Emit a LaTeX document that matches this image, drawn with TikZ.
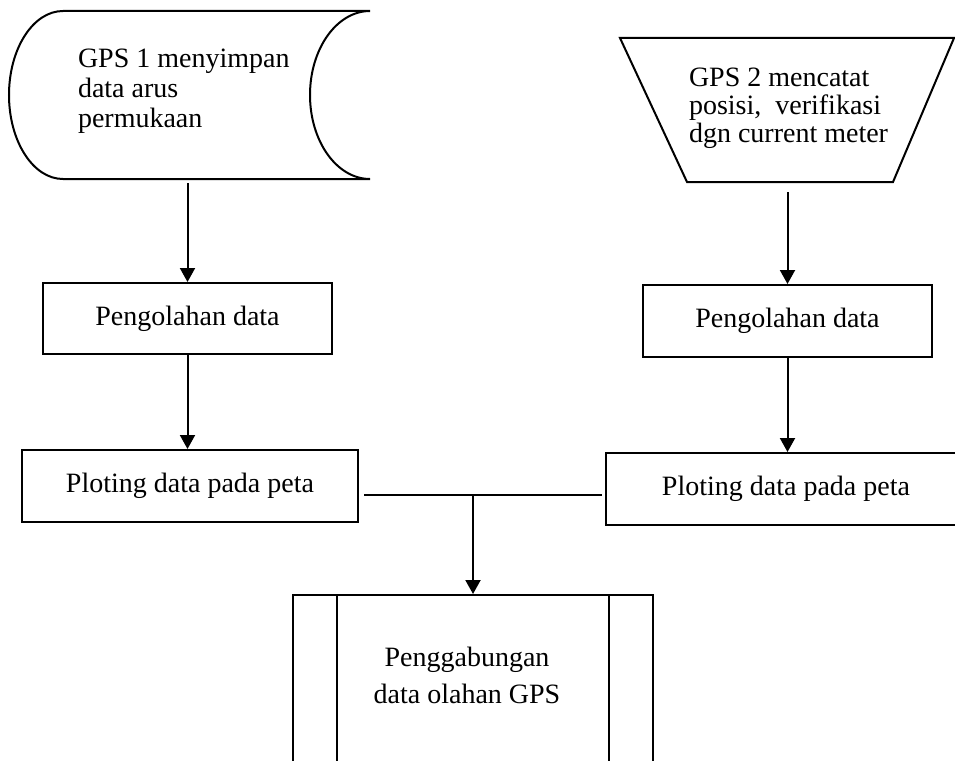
\documentclass[tikz,border=0pt]{standalone}
\usepackage{fontspec}
\setmainfont{Liberation Serif}
\usetikzlibrary{arrows.meta,calc}
\begin{document}
\begin{tikzpicture}[x=1pt,y=-1pt,
  line width=2pt,
  box/.style={draw, rectangle, inner sep=0pt, font=\fontsize{28}{30}\selectfont},
  ghost/.style={rectangle, inner sep=0pt, outer sep=0pt, draw=none},
  txt/.style={inner sep=0pt, font=\fontsize{28}{30}\selectfont},
  arr/.style={-{Triangle[length=14pt,width=15pt]}}
]
\path[use as bounding box] (0,0) rectangle (955,760);
\clip (0,0) rectangle (955,760);

% shapes
\node[ghost, minimum width=361pt, minimum height=168pt] (gps1) at (189.5,95) {};
\node[ghost, minimum width=334pt, minimum height=144pt] (gps2) at (787,110) {};
\draw ([xshift=54pt]gps1.north west) -- (gps1.north east)
  arc[start angle=90, end angle=270, x radius=60pt, y radius=84pt]
  -- ([xshift=54pt]gps1.south west)
  arc[start angle=270, end angle=90, x radius=54pt, y radius=84pt] -- cycle;
\draw (gps2.north west) -- (gps2.north east) -- ([xshift=-61pt]gps2.south east)
  -- ([xshift=67pt]gps2.south west) -- cycle;

\node[txt, align=left, anchor=base west] (gps1t) at (77,127)
  {GPS 1 menyimpan\\data arus\\permukaan};
\node[txt, align=left, anchor=base west, font=\fontsize{28}{28}\selectfont] (gps2t) at (688,142)
  {GPS 2 mencatat\\posisi,\ \ verifikasi\\dgn current meter};

\node[box, minimum width=289pt, minimum height=71pt] (proc1) at (187.5,318.5) {Pengolahan data};
\node[box, minimum width=289pt, minimum height=72pt] (proc2) at (787.5,321) {Pengolahan data};
\node[box, minimum width=336pt, minimum height=72pt] (plot1) at (190,486) {Ploting data pada peta};
\node[box, minimum width=360pt, minimum height=72pt] (plot2) at (786,489) {Ploting data pada peta};
\node[box, minimum width=360pt, minimum height=190pt] (merge) at (473,690) {};
\draw ([xshift=45pt]merge.north west) -- ([xshift=45pt]merge.south west);
\draw ([xshift=-45pt]merge.north east) -- ([xshift=-45pt]merge.south east);
\node[txt, align=center] (mergetext) at (467,675) {Penggabungan\\[7pt]data olahan GPS};

% connectors
\draw[arr, shorten <=4pt] (gps1.south -| proc1.north) -- (proc1.north);
\draw[arr] (proc1.south) -- (proc1.south |- plot1.north);
\draw[arr, shorten <=10pt] (gps2.south -| proc2.north) -- (proc2.north);
\draw[arr] (proc2.south) -- (proc2.south |- plot2.north);
\coordinate (j) at (473,495);
\draw ([xshift=5pt]plot1.east |- j) -- ([xshift=-3pt]plot2.west |- j);
\draw[arr] (j) -- (j |- merge.north);
\end{tikzpicture}
\end{document}
